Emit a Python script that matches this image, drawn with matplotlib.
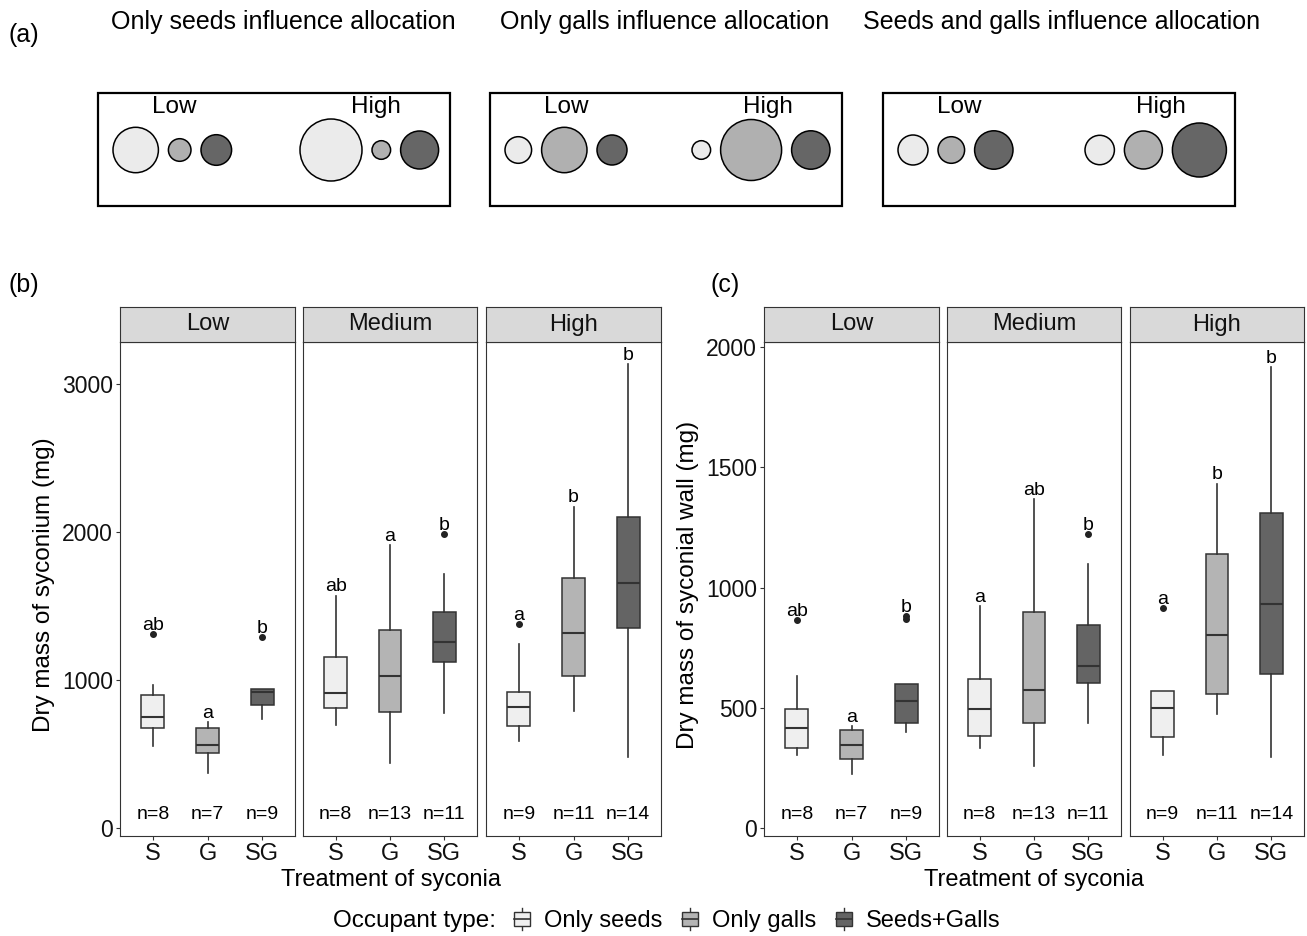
import matplotlib
matplotlib.use("Agg")
import matplotlib.pyplot as plt
from matplotlib.patches import Rectangle, Circle
from matplotlib.legend_handler import HandlerBase
from matplotlib.lines import Line2D
import matplotlib.transforms as mtransforms

plt.rcParams['font.family'] = ['Liberation Sans', 'DejaVu Sans']

# ---------------- data ----------------
# Panel (a): schematic allocation (relative circle radii) for S, G, SG
scenario_titles = ["Only seeds influence allocation",
                   "Only galls influence allocation",
                   "Seeds and galls influence allocation"]
allocation_levels = ["Low", "High"]
radii_seeds_only = [[22.7, 11.3, 15.3], [31.0, 9.3, 19.0]]
radii_galls_only = [[13.3, 22.7, 15.0], [9.3, 30.5, 19.2]]
radii_both = [[15.0, 13.3, 19.2], [14.7, 19.0, 27.0]]

# Panels (b), (c)
levels = ["Low", "Medium", "High"]
treatments = ["S", "G", "SG"]
occupant_types = ["Only seeds", "Only galls", "Seeds+Galls"]
n_obs = [[8, 7, 9], [8, 13, 11], [9, 11, 14]]

# (b) Dry mass of syconium (mg)
syc_med = [[753, 564, 922], [915, 1027, 1257], [821, 1320, 1656]]
syc_q1 = [[673, 504, 830], [811, 782, 1121], [690, 1024, 1354]]
syc_q3 = [[898, 676, 942], [1153, 1337, 1460], [920, 1690, 2102]]
syc_lo = [[554, 373, 738], [695, 441, 775], [591, 789, 477]]
syc_hi = [[966, 714, 942], [1571, 1910, 1717], [1242, 2172, 3133]]
syc_out = [[[1312], [], [1288]], [[], [], [1985]], [[1380], [], []]]
syc_letters = [["ab", "a", "b"], ["ab", "a", "b"], ["a", "b", "b"]]

# (c) Dry mass of syconial wall (mg)
wall_med = [[416, 346, 529], [493, 572, 673], [499, 804, 933]]
wall_q1 = [[333, 288, 437], [383, 435, 602], [377, 559, 639]]
wall_q3 = [[496, 407, 597], [620, 899, 844], [568, 1141, 1311]]
wall_lo = [[302, 223, 398], [334, 257, 438], [303, 475, 294]]
wall_hi = [[634, 425, 597], [923, 1367, 1097], [568, 1432, 1917]]
wall_out = [[[866], [], [881, 869]], [[], [], [1221]], [[915], [], []]]
wall_letters = [["ab", "a", "b"], ["a", "ab", "b"], ["a", "b", "b"]]

# ---------------- style ----------------
W, H = 1307, 936
fills = ["#EFEFEF", "#B4B4B4", "#646464"]
fills_a = ["#EBEBEB", "#B0B0B0", "#666666"]
edge = "#333333"
FS_TICK = 16.5
FS_STRIP = 17
FS_SMALL = 14
FS_LAB = 17

fig = plt.figure(figsize=(W / 100, H / 100), dpi=100)


def px_axes(x0, y0, x1, y1, **kw):
    return fig.add_axes([x0 / W, 1 - y1 / H, (x1 - x0) / W, (y1 - y0) / H], **kw)


# overlay axes in pixel coordinates for panel (a) and free text
ax0 = px_axes(0, 0, W, H)
ax0.set_xlim(0, W)
ax0.set_ylim(H, 0)
ax0.axis("off")

ax0.text(8, 35, "(a)", fontsize=18, ha="left", va="center")
ax0.text(8, 285, "(b)", fontsize=18, ha="left", va="center")
ax0.text(711, 285, "(c)", fontsize=18, ha="left", va="center")

box_left = [98, 490, 883]
title_x = [283, 665, 1062]
all_radii = [radii_seeds_only, radii_galls_only, radii_both]
for k in range(3):
    bl = box_left[k]
    ax0.add_patch(Rectangle((bl, 93), 352, 113, fill=False, ec="black", lw=1.6))
    ax0.text(title_x[k], 22, scenario_titles[k], fontsize=18, ha="center", va="center")
    for g, lvl in enumerate(allocation_levels):
        start = bl + (15 if g == 0 else 202)
        ax0.text(bl + (76 if g == 0 else 278), 107, lvl, fontsize=17.5,
                 ha="center", va="center")
        x = start
        for j, r in enumerate(all_radii[k][g]):
            cx = x + r
            ax0.add_patch(Circle((cx, 150), r, fc=fills_a[j], ec="black", lw=1.1))
            x = cx + r + 10


def draw_panel(xpanels, med, q1, q3, lo, hi, out, letters, ylim, yticks, ylabel,
               ylabel_x, xlabel_x):
    for p, (x0, x1) in enumerate(xpanels):
        ax = px_axes(x0, 342, x1, 836)
        stats = []
        for t in range(3):
            stats.append(dict(med=med[p][t], q1=q1[p][t], q3=q3[p][t],
                              whislo=lo[p][t], whishi=hi[p][t], fliers=out[p][t]))
        bp = ax.bxp(stats, positions=[1, 2, 3], widths=0.42, patch_artist=True,
                    showcaps=False,
                    boxprops=dict(ec=edge, lw=1.1),
                    medianprops=dict(color=edge, lw=1.5),
                    whiskerprops=dict(color=edge, lw=1.2),
                    flierprops=dict(marker="o", markersize=4, mfc="#222222",
                                    mec="#222222"))
        for patch, c in zip(bp["boxes"], fills):
            patch.set_facecolor(c)
        for t in range(3):
            top = max([hi[p][t]] + list(out[p][t]))
            ax.annotate(letters[p][t], xy=(t + 1, top), xytext=(0, 3),
                        textcoords="offset points", ha="center", va="baseline",
                        fontsize=FS_SMALL)
            trans = mtransforms.blended_transform_factory(ax.transData, ax.transAxes)
            ax.text(t + 1, 0.043, "n=%d" % n_obs[p][t], transform=trans,
                    ha="center", va="center", fontsize=FS_SMALL)
        ax.set_xlim(0.4, 3.6)
        ax.set_ylim(*ylim)
        ax.set_xticks([1, 2, 3])
        ax.set_xticklabels(treatments)
        if p == 0:
            ax.set_yticks(yticks)
            ax.set_yticklabels([str(v) for v in yticks])
        else:
            ax.set_yticks([])
        ax.tick_params(length=3, width=0.8, color=edge, labelsize=FS_TICK, pad=2,
                       labelcolor="#111111")
        ax.tick_params(axis="x", labelsize=17)
        for s in ax.spines.values():
            s.set_color(edge)
            s.set_linewidth(0.8)
        # strip
        sax = px_axes(x0, 307, x1, 342)
        sax.set_facecolor("#D9D9D9")
        sax.set_xticks([])
        sax.set_yticks([])
        for s in sax.spines.values():
            s.set_color(edge)
            s.set_linewidth(0.8)
        sax.text(0.5, 0.5, levels[p], transform=sax.transAxes, ha="center",
                 va="center", fontsize=FS_STRIP, color="#111111")
    ax0.text(ylabel_x, 585, ylabel, rotation=90, fontsize=17.5, ha="center",
             va="center")
    ax0.text(xlabel_x, 880, "Treatment of syconia", fontsize=FS_LAB, ha="center",
             va="center")


draw_panel([(120, 295), (303, 477), (486, 661)], syc_med, syc_q1, syc_q3, syc_lo,
           syc_hi, syc_out, syc_letters, (-54, 3284), [0, 1000, 2000, 3000],
           "Dry mass of syconium (mg)", 44, 391)
draw_panel([(764, 939), (947, 1121), (1130, 1304)], wall_med, wall_q1, wall_q3,
           wall_lo, wall_hi, wall_out, wall_letters, (-33, 2021),
           [0, 500, 1000, 1500, 2000],
           "Dry mass of syconial wall (mg)", 688, 1034)


# ---------------- legend ----------------
class BoxHandler(HandlerBase):
    def create_artists(self, legend, orig_handle, xdescent, ydescent, width,
                       height, fontsize, trans):
        bw = width * 0.9
        bx = xdescent + (width - bw) / 2
        by0 = -ydescent + height * 0.1
        bh = height * 0.8
        cx = xdescent + width / 2
        arts = [
            Line2D([cx, cx], [-ydescent - height * 0.15, -ydescent + height * 1.15],
                   color=edge, lw=1.0, transform=trans),
            Rectangle((bx, by0), bw, bh, fc=orig_handle.get_facecolor(), ec=edge,
                      lw=1.0, transform=trans),
            Line2D([bx, bx + bw], [by0 + bh / 2, by0 + bh / 2], color=edge, lw=1.2,
                   transform=trans),
        ]
        return arts


handles = [Rectangle((0, 0), 1, 1, fc=c) for c in fills]
ax0.text(333, 921, "Occupant type:", fontsize=17.5, ha="left", va="center")
fig.legend(handles, occupant_types, handler_map={Rectangle: BoxHandler()},
           loc="center left", bbox_to_anchor=(513 / W, 1 - 921 / H), ncol=3,
           frameon=False, fontsize=17, handlelength=0.75, handleheight=0.75,
           handletextpad=0.55, columnspacing=0.8, borderaxespad=0, borderpad=0)

fig.savefig("out.png", dpi=100)
